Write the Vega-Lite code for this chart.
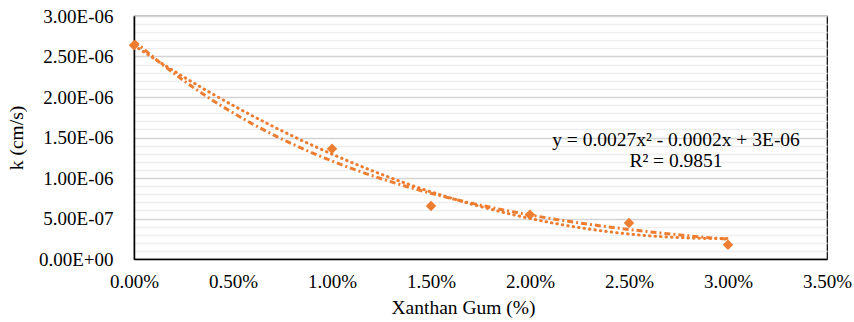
{
  "$schema": "https://vega.github.io/schema/vega-lite/v6.json",
  "autosize": {"type": "none"},
  "width": 693,
  "height": 243,
  "padding": {"left": 134, "top": 16, "right": 27, "bottom": 63},
  "background": "white",
  "config": {
    "font": "Liberation Serif",
    "view": {"stroke": "#000000", "strokeWidth": 1.2},
    "axis": {"labelFont": "Liberation Serif", "titleFont": "Liberation Serif", "labelFontSize": 19, "titleFontSize": 19.5, "labelColor": "#000", "titleColor": "#000", "titleFontWeight": "normal", "ticks": false, "domainColor": "#000", "domainWidth": 1.5}
  },
  "data": {"values": [
    {"x": 0.0, "y": 2.64e-6},
    {"x": 0.01, "y": 1.36e-6},
    {"x": 0.015, "y": 6.55e-7},
    {"x": 0.02, "y": 5.45e-7},
    {"x": 0.025, "y": 4.45e-7},
    {"x": 0.03, "y": 1.75e-7}
  ]},
  "encoding": {
    "x": {"field": "x", "type": "quantitative", "title": "Xanthan Gum (%)",
      "scale": {"domain": [0, 0.035], "nice": false},
      "axis": {"values": [0, 0.005, 0.01, 0.015, 0.02, 0.025, 0.03, 0.035], "format": ".2%", "grid": false, "labelFlush": false, "labelPadding": 13, "titlePadding": 7, "titleX": 329, "titleAlign": "center"}},
    "y": {"field": "y", "type": "quantitative", "title": "k (cm/s)",
      "scale": {"domain": [0, 3e-6], "nice": false},
      "axis": {
        "values": [0,1e-7,2e-7,3e-7,4e-7,5e-7,6e-7,7e-7,8e-7,9e-7,1e-6,1.1e-6,1.2e-6,1.3e-6,1.4e-6,1.5e-6,1.6e-6,1.7e-6,1.8e-6,1.9e-6,2e-6,2.1e-6,2.2e-6,2.3e-6,2.4e-6,2.5e-6,2.6e-6,2.7e-6,2.8e-6,2.9e-6,3e-6],
        "labelExpr": "round(datum.value*1e7)%5==0 ? (datum.value==0 ? '0.00E+00' : (datum.value < 9.9e-7 ? format(datum.value*1e7,'.2f')+'E-07' : format(datum.value*1e6,'.2f')+'E-06')) : ''",
        "labelFlush": false,
        "grid": true,
        "gridColor": {"condition": {"test": "round(datum.value*1e7)%5==0", "value": "#d4d4d4"}, "value": "#eeeeee"},
        "gridWidth": 1.5,
        "labelPadding": 21,
        "titlePadding": 12
      }}
  },
  "layer": [
    {
      "transform": [{"regression": "y", "on": "x", "method": "poly", "order": 2}],
      "mark": {"type": "line", "color": "#ED7D31", "strokeWidth": 3, "strokeDash": [0.5, 5], "strokeCap": "round"}
    },
    {
      "transform": [{"regression": "y", "on": "x", "method": "exp"}],
      "mark": {"type": "line", "color": "#ED7D31", "strokeWidth": 3, "strokeDash": [6, 3, 2, 3], "strokeCap": "butt"}
    },
    {
      "mark": {"type": "point", "shape": "diamond", "filled": true, "color": "#ED7D31", "size": 110, "opacity": 1}
    },
    {
      "transform": [{"filter": "datum.x == 0"}],
      "mark": {"type": "text", "text": ["y = 0.0027x² - 0.0002x + 3E-06", "R² = 0.9851"], "align": "center", "baseline": "alphabetic", "fontSize": 19.5, "lineHeight": 21, "color": "#000", "font": "Liberation Serif"},
      "encoding": {"x": {"datum": 0.027374}, "y": {"datum": 1.395e-6}}
    }
  ]
}
